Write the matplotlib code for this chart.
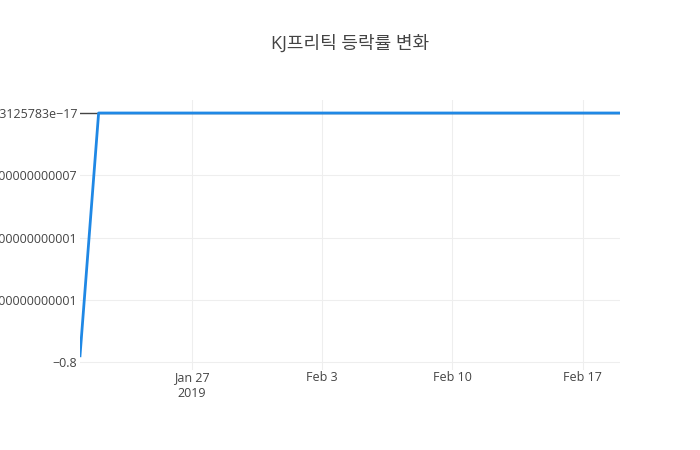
import matplotlib
matplotlib.use("Agg")
import matplotlib.pyplot as plt
import pandas as pd

plt.rcParams['font.family'] = ['Open Sans', 'Noto Sans CJK KR', 'DejaVu Sans']

dates = ["2019-01-21", "2019-01-22", "2019-01-23", "2019-01-24", "2019-01-25",
         "2019-01-28", "2019-01-29", "2019-01-30", "2019-01-31", "2019-02-01",
         "2019-02-07", "2019-02-08", "2019-02-11", "2019-02-12", "2019-02-13",
         "2019-02-14", "2019-02-15", "2019-02-18", "2019-02-19"]
values = [-0.78, 0, 0, 0, 0, 0, 0, 0, 0, 0, 0, 0, 0, 0, 0, 0, 0, 0, 0]
ytick_vals = [-0.8, -0.6, -0.4, -0.2, 5.551115123125783e-17]
ytick_labels = ["\u22120.8", "\u22120.6000000000000001", "\u22120.4000000000000001",
                "\u22120.20000000000000007", "5.551115123125783e\u221217"]
xtick_dates = ["2019-01-27", "2019-02-03", "2019-02-10", "2019-02-17"]
xtick_labels = ["Jan 27\n2019", "Feb 3", "Feb 10", "Feb 17"]
title = "KJ프리틱 등락률 변화"

x = pd.to_datetime(dates)
fig = plt.figure(figsize=(7, 4.5), dpi=100)
ax = fig.add_axes([80/700, 80/450, 540/700, 270/450])

ax.plot(x, values, color="#1f88e5", lw=2, zorder=3)
ax.axhline(0, color="#444444", lw=1, zorder=2)

ax.set_xlim(pd.Timestamp("2019-01-21"), pd.Timestamp("2019-02-19"))
ax.set_ylim(-0.8257, 0.0418)
ax.set_yticks(ytick_vals)
ax.set_yticklabels(ytick_labels)
ax.set_xticks(pd.to_datetime(xtick_dates))
ax.set_xticklabels(xtick_labels, linespacing=1.25)

for s in ax.spines.values():
    s.set_visible(False)
ax.grid(True, color="#eeeeee", lw=0.8, zorder=0)
ax.tick_params(axis="both", length=0, labelsize=9, colors="#444444")
ax.tick_params(axis="y", pad=2)
ax.tick_params(axis="x", pad=1)

fig.text(350/700, 1 - 44/450, title, ha="center", va="center", fontsize=13, color="#444444")
fig.savefig("out.png", dpi=100, facecolor="white")
